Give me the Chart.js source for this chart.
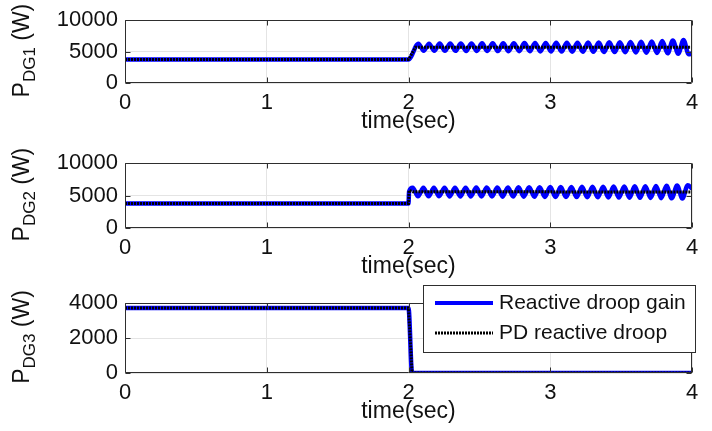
<!DOCTYPE html>
<html>
<head>
<meta charset="utf-8">
<script src="https://cdn.jsdelivr.net/npm/chart.js@4/dist/chart.umd.min.js"></script>
<style>
  html, body { margin: 0; padding: 0; background: #fff; }
  #wrap { position: relative; width: 712px; height: 431px; overflow: hidden; }
  .panel { position: absolute; left: 0; width: 712px; }
  .panel canvas { display: block; }
</style>
</head>
<body>
<div id="wrap">
  <div class="panel" style="top:0px"><canvas id="c1" width="712" height="135"></canvas></div>
  <div class="panel" style="top:143px"><canvas id="c2" width="712" height="137"></canvas></div>
  <div class="panel" style="top:280px"><canvas id="c3" width="712" height="145"></canvas></div>
</div>
<script>
// ---- shared axis ticks ----
const timeTicks = [0, 1, 2, 3, 4];
const dg1Ticks = [0, 5000, 10000];
const dg2Ticks = [0, 5000, 10000];
const dg3Ticks = [0, 2000, 4000];

// ---- series labels ----
const seriesNames = ['Reactive droop gain', 'PD reactive droop'];

// ---- DG1 active power (W) ----
const dg1GainT = [0, 2.000,
  2.070, 2.107, 2.145, 2.182, 2.220, 2.257, 2.294, 2.332, 2.369, 2.407,
  2.444, 2.482, 2.519, 2.556, 2.594, 2.631, 2.668, 2.706, 2.743, 2.781,
  2.818, 2.856, 2.893, 2.930, 2.968, 3.005, 3.042, 3.080, 3.117, 3.155,
  3.192, 3.230, 3.267, 3.304, 3.342, 3.379, 3.416, 3.454, 3.491, 3.529,
  3.566, 3.604, 3.641, 3.678, 3.716, 3.753, 3.790, 3.828, 3.865, 3.903,
  3.940, 3.977, 4.000];
const dg1GainP = [3750, 3750,
  6250, 5150, 6260, 5140, 6270, 5130, 6280, 5120, 6290, 5110,
  6300, 5100, 6310, 5090, 6320, 5080, 6330, 5070, 6340, 5060,
  6350, 5050, 6370, 5030, 6380, 5020, 6400, 5000, 6410, 4990,
  6420, 4980, 6440, 4960, 6460, 4940, 6480, 4920, 6500, 4900,
  6530, 4870, 6570, 4830, 6620, 4780, 6680, 4720, 6750, 4650,
  6850, 4560, 4750];
const dg1PdT = [0, 2.000, 2.050, 4.000];
const dg1PdP = [3750, 3750, 5700, 5700];

// ---- DG2 active power (W) ----
const dg2GainT = [0, 2.000, 2.004,
  2.030, 2.067, 2.105, 2.142, 2.179, 2.216, 2.254, 2.291, 2.328, 2.365,
  2.403, 2.440, 2.478, 2.515, 2.552, 2.589, 2.627, 2.664, 2.701, 2.738,
  2.776, 2.813, 2.851, 2.888, 2.925, 2.962, 3.000, 3.037, 3.074, 3.111,
  3.149, 3.186, 3.224, 3.261, 3.298, 3.335, 3.373, 3.410, 3.447, 3.484,
  3.522, 3.559, 3.596, 3.633, 3.671, 3.708, 3.746, 3.783, 3.820, 3.857,
  3.895, 3.932, 3.970, 4.000];
const dg2GainP = [3800, 3800, 5600,
  6200, 4900, 6210, 4890, 6200, 4900, 6220, 4880, 6230, 4870,
  6220, 4880, 6240, 4860, 6250, 4850, 6260, 4840, 6250, 4850,
  6270, 4830, 6280, 4820, 6300, 4800, 6310, 4790, 6320, 4780,
  6330, 4770, 6350, 4750, 6360, 4740, 6380, 4720, 6400, 4700,
  6420, 4680, 6440, 4660, 6460, 4640, 6490, 4610, 6520, 4580,
  6550, 4550, 6600, 6100];
const dg2PdT = [0, 2.000, 2.004, 2.030, 4.000];
const dg2PdP = [3800, 3800, 5800, 5600, 5550];

// ---- DG3 active power (W) ----
const dg3GainT = [0, 2.000, 2.025, 4.000];
const dg3GainP = [3720, 3720, 0, 0];
const dg3PdT = [0, 2.000, 2.025, 4.000];
const dg3PdP = [3720, 3720, 0, 0];

const FONT = "'Liberation Sans', Arial, Helvetica, sans-serif";
const INK = '#111111';
const AXIS = '#2e2e2e';
const GRID = '#e4e4e4';
const BLUE = '#0000ff';

Chart.defaults.font.family = FONT;
Chart.defaults.font.size = 22;
Chart.defaults.color = INK;

function pts(t, p) { return t.map((x, i) => ({ x: x, y: p[i] })); }

// Axes box, inward tick marks and the subscripted y-axis label
function framePlugin(sub) {
  return {
    id: 'frame',
    afterDraw(chart) {
      const { ctx, chartArea: a, scales } = chart;
      const xs = scales.x, ys = scales.y;
      ctx.save();
      ctx.strokeStyle = AXIS;
      ctx.lineWidth = 1;
      ctx.beginPath();
      const L = Math.round(a.left) + 0.5, R = Math.round(a.right) - 0.5;
      const T = Math.round(a.top) + 0.5, B = Math.round(a.bottom) - 0.5;
      ctx.rect(L, T, R - L, B - T);
      xs.ticks.forEach(tk => {
        const px = Math.round(xs.getPixelForValue(tk.value)) + 0.5;
        ctx.moveTo(px, B); ctx.lineTo(px, B - 5);
        ctx.moveTo(px, T); ctx.lineTo(px, T + 5);
      });
      ys.ticks.forEach(tk => {
        const py = Math.round(ys.getPixelForValue(tk.value)) + 0.5;
        ctx.moveTo(L, py); ctx.lineTo(L + 5, py);
        ctx.moveTo(R, py); ctx.lineTo(R - 5, py);
      });
      ctx.stroke();

      // y label: P with subscript, then (W)
      const big = '23px ' + FONT, small = '17px ' + FONT;
      ctx.font = big; const wP = ctx.measureText('P').width;
      const wU = ctx.measureText(' (W)').width;
      ctx.font = small; const wS = ctx.measureText(sub).width;
      const total = wP + wS + wU;
      const cy = (a.top + a.bottom) / 2 - 1;
      ctx.translate(29, cy);
      ctx.rotate(-Math.PI / 2);
      ctx.fillStyle = INK;
      ctx.textBaseline = 'alphabetic';
      ctx.textAlign = 'left';
      let x0 = -total / 2;
      ctx.font = big; ctx.fillText('P', x0, 0); x0 += wP;
      ctx.font = small; ctx.fillText(sub, x0, 6); x0 += wS;
      ctx.font = big; ctx.fillText(' (W)', x0, 0);
      ctx.restore();
    }
  };
}

// Legend box drawn inside the bottom panel
const legendPlugin = {
  id: 'boxLegend',
  afterDraw(chart) {
    const ctx = chart.ctx;
    const bx = 423.5, by = 5.5, bw = 272, bh = 67;
    ctx.save();
    ctx.fillStyle = '#ffffff';
    ctx.fillRect(bx, by, bw, bh);
    ctx.strokeStyle = AXIS;
    ctx.lineWidth = 1;
    ctx.strokeRect(bx, by, bw, bh);
    // blue solid entry
    ctx.strokeStyle = BLUE; ctx.lineWidth = 4;
    ctx.beginPath(); ctx.moveTo(435, 23); ctx.lineTo(493, 23); ctx.stroke();
    // black dotted entry
    ctx.strokeStyle = '#000'; ctx.lineWidth = 3; ctx.setLineDash([2, 1]);
    ctx.beginPath(); ctx.moveTo(435, 53); ctx.lineTo(493, 53); ctx.stroke();
    ctx.setLineDash([]);
    ctx.fillStyle = INK;
    ctx.font = '21px ' + FONT;
    ctx.textBaseline = 'middle';
    ctx.textAlign = 'left';
    ctx.fillText(seriesNames[0], 499, 23);
    ctx.fillText(seriesNames[1], 499, 53);
    ctx.restore();
  }
};

function makePanel(id, sub, yTicks, yMax, gainT, gainP, pdT, pdP, padTop, extra) {
  const plugins = [framePlugin(sub)];
  if (extra) plugins.push(extra);
  return new Chart(document.getElementById(id), {
    type: 'line',
    data: {
      datasets: [
        {
          label: seriesNames[1],
          data: pts(pdT, pdP),
          borderColor: '#000000',
          borderWidth: 3,
          borderDash: [2, 1],
          pointRadius: 0,
          tension: 0
        },
        {
          label: seriesNames[0],
          data: pts(gainT, gainP),
          borderColor: BLUE,
          borderWidth: 4.5,
          pointRadius: 0,
          cubicInterpolationMode: 'monotone'
        }
      ]
    },
    options: {
      responsive: false,
      animation: false,
      events: [],
      layout: { padding: { top: padTop, right: 20, left: 0, bottom: 0 } },
      plugins: { legend: { display: false }, tooltip: { enabled: false } },
      scales: {
        x: {
          type: 'linear',
          min: 0, max: 4,
          afterBuildTicks: s => { s.ticks = timeTicks.map(v => ({ value: v })); },
          afterFit: s => { s.height = 52; },
          ticks: { padding: 7, maxRotation: 0, autoSkip: false, color: INK, callback: v => String(v) },
          grid: { color: GRID, drawTicks: false, lineWidth: 1 },
          border: { display: false },
          title: { display: true, text: 'time(sec)', color: INK, padding: { top: 0, bottom: 0 }, font: { size: 23 } }
        },
        y: {
          type: 'linear',
          min: 0, max: yMax,
          afterBuildTicks: s => { s.ticks = yTicks.map(v => ({ value: v })); },
          afterFit: s => { s.width = 125; },
          ticks: { padding: 7, color: INK, callback: v => String(v) },
          grid: { color: GRID, drawTicks: false, lineWidth: 1 },
          border: { display: false }
        }
      }
    },
    plugins: plugins
  });
}

makePanel('c1', 'DG1', dg1Ticks, 10000, dg1GainT, dg1GainP, dg1PdT, dg1PdP, 14);
makePanel('c2', 'DG2', dg2Ticks, 10000, dg2GainT, dg2GainP, dg2PdT, dg2PdP, 14);
makePanel('c3', 'DG3', dg3Ticks, 4000, dg3GainT, dg3GainP, dg3PdT, dg3PdP, 23, legendPlugin);
</script>
</body>
</html>
